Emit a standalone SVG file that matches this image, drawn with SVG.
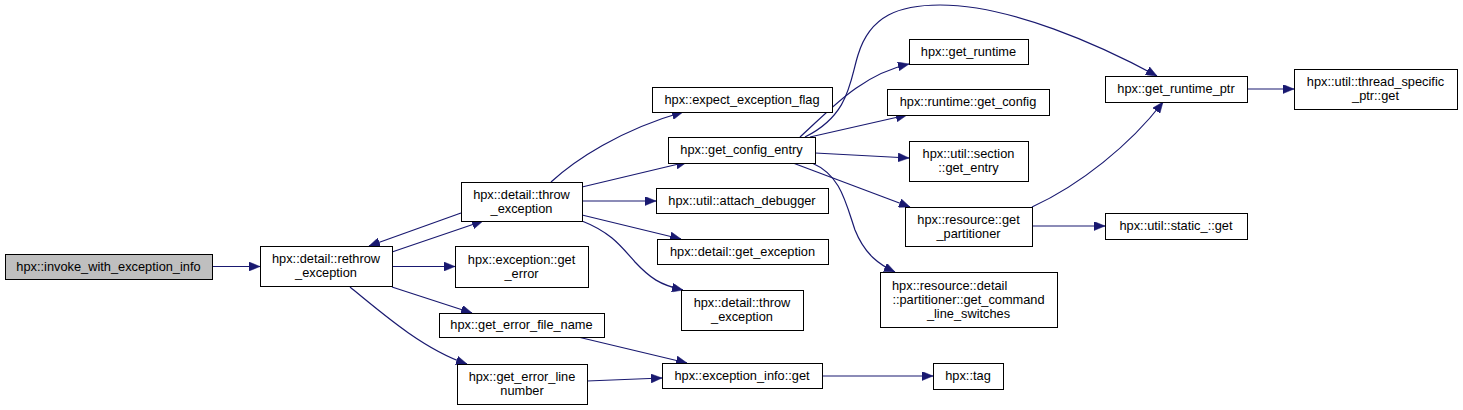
<svg xmlns="http://www.w3.org/2000/svg" width="1463" height="410" viewBox="0 0 1463 410">
<style>
.n rect{fill:#ffffff;stroke:#000000;stroke-width:1}
.n.root rect{fill:#bfbfbf}
.n text{font-family:"Liberation Sans",Arial,sans-serif;font-size:12.8px;fill:#000000;text-anchor:middle}
.e path{fill:none;stroke:#191970;stroke-width:1.2;marker-end:url(#ah)}
</style>
<defs>
<marker id="ah" markerUnits="userSpaceOnUse" markerWidth="11" markerHeight="9" viewBox="0 0 11 9" refX="11" refY="4.5" orient="auto">
<path d="M0,0 L11,4.5 L0,9 z" fill="#191970" stroke="#191970" stroke-width="0.5"/>
</marker>
</defs>
<rect width="1463" height="410" fill="#ffffff"/>
<g id="connectors" class="e">
<path d="M212,266.5 L260,266.5"/>
<path d="M461,213 L369,246"/>
<path d="M392,252 L483,221"/>
<path d="M392,266.5 L455,266.5"/>
<path d="M392,287 L472,313"/>
<path d="M350,287 C385,316 425,350 467,364"/>
<path d="M551,182 C575,160 620,130 683,112"/>
<path d="M582,187 L687,162"/>
<path d="M582,201 L656,201"/>
<path d="M582,215 L681,239"/>
<path d="M582,221 C610,232 620,245 635,262 C650,278 660,285 683,290"/>
<path d="M578,337 L687,363"/>
<path d="M587,381 L662,378"/>
<path d="M822,376 L933,376"/>
<path d="M800,137 C830,110 860,75 909,64"/>
<path d="M805,137 C850,115 850,80 858,55 C870,15 900,5 940,5 C1010,5 1100,45 1157,76"/>
<path d="M810,137 L907,115"/>
<path d="M815,153 L909,158"/>
<path d="M793,163 L910,207"/>
<path d="M812,163 C840,175 845,200 855,230 C865,255 880,265 895,272"/>
<path d="M1032,207 C1080,185 1130,145 1163,102"/>
<path d="M1032,226 L1105,226"/>
<path d="M1247,89 L1294,89"/>
</g>
<g id="n1" class="n root"><rect x="5.5" y="254.5" width="207" height="25"/><text x="108.5" y="270.5">hpx::invoke_with_exception_info</text></g>
<g id="n2" class="n"><rect x="260.5" y="246.5" width="132" height="40"/><text x="326" y="263">hpx::detail::rethrow</text><text x="326" y="277">_exception</text></g>
<g id="n3" class="n"><rect x="461.5" y="182.5" width="121" height="39"/><text x="521.5" y="198.5">hpx::detail::throw</text><text x="521.5" y="212.5">_exception</text></g>
<g id="n4" class="n"><rect x="455.5" y="246.5" width="133" height="41"/><text x="521.5" y="263.5">hpx::exception::get</text><text x="521.5" y="277.5">_error</text></g>
<g id="n5" class="n"><rect x="439.5" y="313.5" width="165" height="24"/><text x="521.5" y="329">hpx::get_error_file_name</text></g>
<g id="n6" class="n"><rect x="457.5" y="364.5" width="130" height="40"/><text x="522" y="381">hpx::get_error_line</text><text x="522" y="395">number</text></g>
<g id="n7" class="n"><rect x="652.5" y="87.5" width="180" height="25"/><text x="742" y="103.5">hpx::expect_exception_flag</text></g>
<g id="n8" class="n"><rect x="668.5" y="137.5" width="147" height="26"/><text x="741.5" y="154">hpx::get_config_entry</text></g>
<g id="n9" class="n"><rect x="656.5" y="188.5" width="172" height="25"/><text x="742" y="204.5">hpx::util::attach_debugger</text></g>
<g id="n10" class="n"><rect x="657.5" y="239.5" width="171" height="25"/><text x="742.5" y="255.5">hpx::detail::get_exception</text></g>
<g id="n11" class="n"><rect x="681.5" y="290.5" width="122" height="40"/><text x="742" y="307">hpx::detail::throw</text><text x="742" y="321">_exception</text></g>
<g id="n12" class="n"><rect x="662.5" y="363.5" width="160" height="25"/><text x="742" y="379.5">hpx::exception_info::get</text></g>
<g id="n13" class="n"><rect x="909.5" y="39.5" width="119" height="25"/><text x="968.5" y="55.5">hpx::get_runtime</text></g>
<g id="n14" class="n"><rect x="887.5" y="89.5" width="162" height="26"/><text x="968" y="106">hpx::runtime::get_config</text></g>
<g id="n15" class="n"><rect x="909.5" y="141.5" width="119" height="40"/><text x="968.5" y="158">hpx::util::section</text><text x="968.5" y="172">::get_entry</text></g>
<g id="n16" class="n"><rect x="905.5" y="207.5" width="127" height="39"/><text x="968.5" y="223.5">hpx::resource::get</text><text x="968.5" y="237.5">_partitioner</text></g>
<g id="n17" class="n"><rect x="880.5" y="272.5" width="177" height="55"/><text x="892" y="289.5" style="text-anchor:start">hpx::resource::detail</text><text x="968.5" y="303.5">::partitioner::get_command</text><text x="968.5" y="317.5">_line_switches</text></g>
<g id="n18" class="n"><rect x="933.5" y="363.5" width="70" height="26"/><text x="968" y="380">hpx::tag</text></g>
<g id="n19" class="n"><rect x="1105.5" y="76.5" width="142" height="26"/><text x="1176" y="93">hpx::get_runtime_ptr</text></g>
<g id="n20" class="n"><rect x="1294.5" y="69.5" width="163" height="40"/><text x="1375.5" y="86">hpx::util::thread_specific</text><text x="1375.5" y="100">_ptr::get</text></g>
<g id="n21" class="n"><rect x="1105.5" y="213.5" width="142" height="26"/><text x="1176" y="230">hpx::util::static_::get</text></g>
</svg>
